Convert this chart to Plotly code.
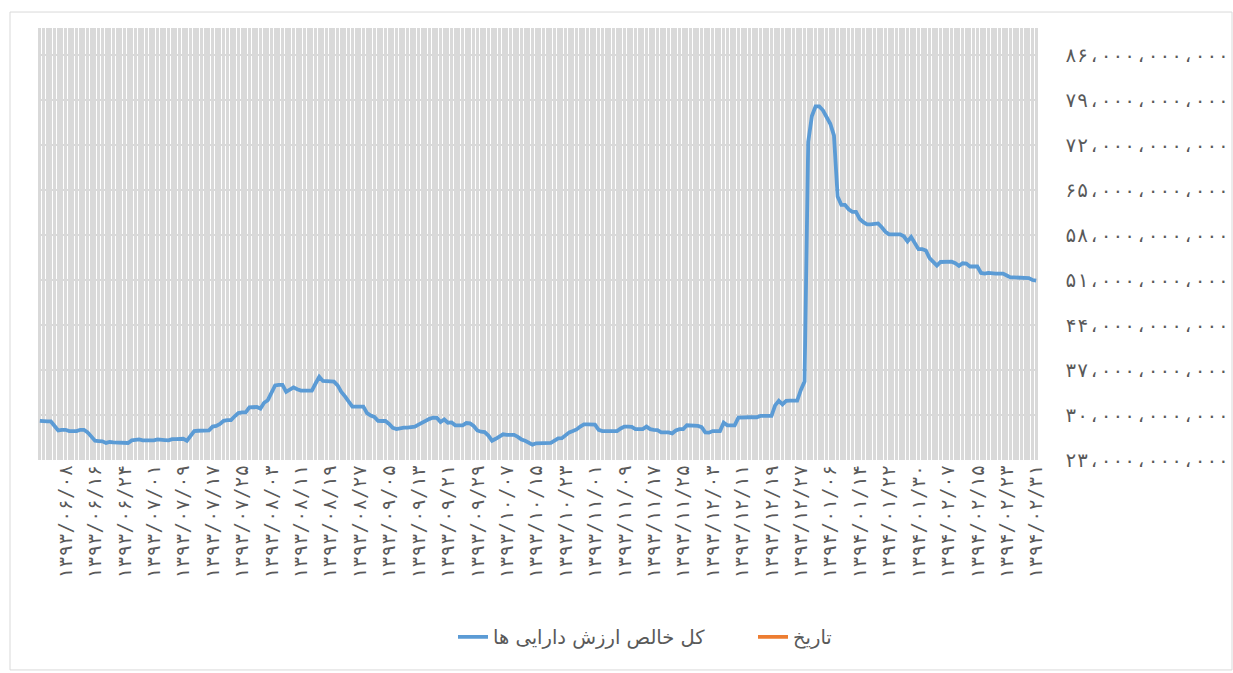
import plotly.graph_objects as go

# ---- data (values in billions of rials), one per day from 1393/06/01 ----
nav_billion = [
    29.1, 29.0, 29.0, 29.0, 28.4, 27.6, 27.7, 27.7, 27.5, 27.5,
    27.5, 27.7, 27.7, 27.3, 26.6, 26.0, 25.95, 25.9, 25.65, 25.8,
    25.75, 25.7, 25.65, 25.65, 25.65, 26.05, 26.1, 26.2, 26.05, 26.05,
    26.05, 26.05, 26.2, 26.2, 26.1, 26.05, 26.25, 26.25, 26.25, 26.3,
    26.0, 26.8, 27.5, 27.55, 27.55, 27.55, 27.6, 28.2, 28.3, 28.6,
    29.1, 29.2, 29.2, 29.8, 30.3, 30.4, 30.4, 31.2, 31.25, 31.25,
    31.0, 31.9, 32.3, 33.5, 34.6, 34.7, 34.7, 33.6, 33.9, 34.3,
    34.0, 33.8, 33.8, 33.8, 33.8, 34.9, 35.95, 35.3, 35.25, 35.25,
    35.2, 34.6, 33.6, 32.9, 32.0, 31.3, 31.3, 31.3, 31.3, 30.3,
    29.9, 29.7, 29.1, 29.07, 29.07, 28.6, 28.0, 27.8, 28.0, 28.05,
    28.05, 28.1, 28.2, 28.5, 28.85, 29.2, 29.4, 29.6, 29.55, 28.9,
    29.3, 28.8, 28.85, 28.4, 28.4, 28.4, 28.75, 28.7, 28.3, 27.6,
    27.4, 27.35, 26.8, 26.0, 26.3, 26.7, 27.0, 26.9, 26.9, 26.9,
    26.6, 26.2, 26.0, 25.75, 25.4, 25.6, 25.6, 25.6, 25.7, 25.65,
    26.0, 26.35, 26.4, 26.8, 27.3, 27.5, 27.75, 28.2, 28.55, 28.55,
    28.55, 28.5, 27.7, 27.5, 27.5, 27.5, 27.5, 27.5, 27.9, 28.2,
    28.2, 28.15, 27.8, 27.8, 27.8, 28.2, 27.8, 27.7, 27.65, 27.3,
    27.3, 27.3, 27.15, 27.6, 27.8, 27.8, 28.4, 28.4, 28.4, 28.3,
    28.1, 27.3, 27.25, 27.5, 27.5, 27.5, 28.8, 28.4, 28.4, 28.4,
    29.6, 29.65, 29.65, 29.65, 29.65, 29.65, 29.85, 29.85, 29.85, 29.85,
    31.5, 32.2, 31.65, 32.2, 32.25, 32.25, 32.25, 33.9, 35.2, 72.5,
    76.5, 78.0, 78.0, 77.4, 76.2, 75.3, 73.5, 64.0, 62.7, 62.7,
    62.0, 61.6, 61.6, 60.5, 60.0, 59.66, 59.66, 59.66, 59.8, 59.2,
    58.5, 58.1, 58.1, 58.1, 58.1, 57.8, 57.0, 57.7, 56.8, 55.8,
    55.8, 55.6, 54.4, 53.9, 53.25, 53.8, 53.85, 53.85, 53.85, 53.6,
    53.2, 53.6, 53.55, 53.1, 53.1, 53.1, 52.1, 52.0, 52.1, 52.0,
    52.0, 52.0, 52.0, 51.7, 51.4, 51.4, 51.4, 51.4, 51.4, 51.3,
    51.0, 50.9,
]
series_name = "کل خالص ارزش دارایی ها"
date_series_name = "تاریخ"
y_ticks_billion = [23, 30, 37, 44, 51, 58, 65, 72, 79, 86]
start_date = (1393, 6, 1)
label_every = 8
label_offset = 7

FA = str.maketrans("0123456789", "۰۱۲۳۴۵۶۷۸۹")


def month_len(y, m):
    if m <= 6:
        return 31
    if m <= 11:
        return 30
    return 30 if y in (1391, 1395, 1399) else 29


dates = []
y, m, d = start_date
for _ in range(len(nav_billion)):
    dates.append(f"{y}/{m:02d}/{d:02d}")
    d += 1
    if d > month_len(y, m):
        d = 1
        m += 1
        if m > 12:
            m = 1
            y += 1

tick_text = [
    dates[i].translate(FA) if (i - label_offset) % label_every == 0 and i >= label_offset else ""
    for i in range(len(dates))
]

yvals = [v * 1e9 for v in nav_billion]
ytickvals = [v * 1e9 for v in y_ticks_billion]
yticktext = [f"{int(v):,}".replace(",", "\u060c").translate(FA) for v in ytickvals]

fig = go.Figure()
fig.add_trace(go.Scatter(
    x=dates, y=yvals, mode="lines", name=series_name,
    line=dict(color="#5b9bd5", width=3.8),
))
fig.add_trace(go.Scatter(
    x=[None], y=[None], mode="lines", name=date_series_name,
    line=dict(color="#ed7d31", width=3.8),
))

fig.update_layout(
    width=1233, height=673,
    margin=dict(l=38, r=195, t=28, b=213, autoexpand=False),
    paper_bgcolor="white", plot_bgcolor="white",
    font=dict(family="DejaVu Sans", color="#595959"),
    showlegend=True,
    legend=dict(
        orientation="h", x=0.415, y=-0.41, xanchor="left", yanchor="middle",
        font=dict(size=19.5, color="#595959", family="DejaVu Sans"),
        entrywidth=255, entrywidthmode="pixels",
    ),
    xaxis=dict(
        type="category",
        categoryorder="array", categoryarray=dates,
        range=[-0.5, len(dates) - 0.5],
        tickmode="array", tickvals=dates, ticktext=tick_text,
        tickangle=-90,
        ticks="",
        automargin=False,
        showgrid=True, gridcolor="#d9d9d9", gridwidth=2.6,
        showline=False, zeroline=False,
        tickfont=dict(size=19, color="#595959", family="DejaVu Sans Mono"),
    ),
    yaxis=dict(
        side="right",
        range=[23e9, 90.2e9],
        tickmode="array", tickvals=ytickvals, ticktext=yticktext,
        ticks="",
        ticklabelstandoff=26,
        automargin=False,
        showgrid=True, gridcolor="#d9d9d9", gridwidth=2,
        showline=False, zeroline=False,
        tickfont=dict(size=19.5, color="#595959", family="DejaVu Sans Mono"),
    ),
    shapes=[dict(
        type="rect", xref="paper", yref="paper",
        x0=-0.028, x1=1.194, y0=-0.486, y1=1.037,
        line=dict(color="#d9d9d9", width=1), fillcolor="rgba(0,0,0,0)",
        layer="below",
    )],
)

fig.write_html("out.html", config={"displayModeBar": False},
               post_script="document.body.style.margin='0';")
